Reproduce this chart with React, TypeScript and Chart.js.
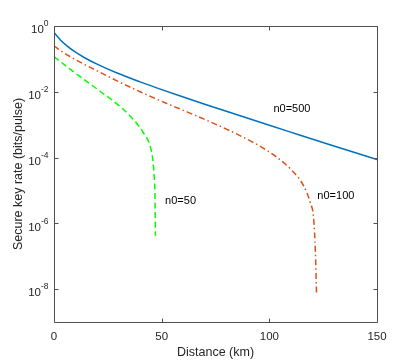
import React, { useEffect, useRef } from "react";
import { Chart, registerables } from "chart.js";

Chart.register(...registerables);

// Distance (km) and secure key rate (bits/pulse) for each series
const distN500 = [0, 3, 6, 10, 14, 20, 29, 40, 50, 58, 70, 85, 100, 114, 130, 150];
const rateN500 = [0.631, 0.3758, 0.2483, 0.1596, 0.1104, 0.069, 0.03784, 0.02, 0.01161, 7.67e-3, 4.178e-3, 2.0e-3, 9.59e-4, 4.875e-4, 2.249e-4, 8.75e-5];

const distN100 = [0, 3, 7, 14, 20, 29, 40, 50, 58, 70, 85, 95, 102, 110, 116, 119, 120.6, 121.4, 121.9];
const rateN100 = [0.251, 0.1803, 0.1225, 0.06855, 0.04345, 0.02193, 0.01, 5.129e-3, 3.09e-3, 1.445e-3, 5.13e-4, 2.344e-4, 1.202e-4, 4.37e-5, 1.35e-5, 4.27e-6, 1.32e-6, 1.29e-7, 7.9e-9];

const distN50 = [0, 3, 7, 13.6, 21.4, 30.7, 36.9, 41.5, 44.7, 45.9, 46.5, 46.9, 47.1];
const rateN50 = [0.1175, 0.082, 0.0518, 0.0245, 0.01038, 3.56e-3, 1.426e-3, 5.68e-4, 2.18e-4, 8.32e-5, 2.75e-5, 6.3e-6, 4.17e-7];

const xTicks = [0, 50, 100, 150];
const yTickExponents = [0, -2, -4, -6, -8];

const annotationText = ["n0=500", "n0=100", "n0=50"];
const annotationX = [101.9, 122.3, 51.6];
const annotationY = [3.0e-3, 6.6e-6, 4.7e-6];

const xTitle = "Distance (km)";
const yTitle = "Secure key rate (bits/pulse)";

const FONT = '"Liberation Sans", Arial, Helvetica, sans-serif';

const toPoints = (xs: number[], ys: number[]) => xs.map((x, i) => ({ x, y: ys[i] }));

const axesPlugin = {
  id: "matlabAxes",
  afterDraw(chart: any) {
    const { ctx, chartArea, scales } = chart;
    const { left, right, top, bottom } = chartArea;
    const xs = scales.x;
    const ys = scales.y;
    ctx.save();
    ctx.strokeStyle = "#505050";
    ctx.lineWidth = 1;
    const L = Math.round(left) + 0.5;
    const R = Math.round(right) + 0.5;
    const T = Math.round(top) + 0.5;
    const B = Math.round(bottom) + 0.5;
    ctx.beginPath();
    ctx.moveTo(L, T);
    ctx.lineTo(R, T);
    ctx.lineTo(R, B);
    ctx.lineTo(L, B);
    ctx.closePath();
    ctx.stroke();

    const tl = 4;
    ctx.beginPath();
    xTicks.forEach((v) => {
      const px = Math.round(xs.getPixelForValue(v)) + 0.5;
      ctx.moveTo(px, B);
      ctx.lineTo(px, B - tl);
      ctx.moveTo(px, T);
      ctx.lineTo(px, T + tl);
    });
    yTickExponents.forEach((e) => {
      const py = Math.round(ys.getPixelForValue(Math.pow(10, e))) + 0.5;
      ctx.moveTo(L, py);
      ctx.lineTo(L + tl, py);
      ctx.moveTo(R, py);
      ctx.lineTo(R - tl, py);
    });
    ctx.stroke();

    ctx.fillStyle = "#262626";
    ctx.font = `11.5px ${FONT}`;
    ctx.textAlign = "center";
    ctx.textBaseline = "middle";
    xTicks.forEach((v) => {
      const px = xs.getPixelForValue(v);
      ctx.fillText(String(v), px, bottom + 14.5);
    });

    const labelRight = left - 5.5;
    yTickExponents.forEach((e) => {
      const py = ys.getPixelForValue(Math.pow(10, e));
      const expStr = e === 0 ? "0" : "-" + Math.abs(e);
      ctx.font = `8.5px ${FONT}`;
      const w = ctx.measureText(expStr).width;
      ctx.textAlign = "right";
      ctx.textBaseline = "middle";
      ctx.fillText(expStr, labelRight, py - 2);
      ctx.font = `11.5px ${FONT}`;
      ctx.fillText("10", labelRight - w, py + 4);
    });

    ctx.font = `12.5px ${FONT}`;
    ctx.textAlign = "center";
    ctx.textBaseline = "middle";
    ctx.fillText(xTitle, (left + right) / 2, bottom + 31);

    ctx.save();
    ctx.translate(18.5, (top + bottom) / 2);
    ctx.rotate(-Math.PI / 2);
    ctx.fillText(yTitle, 0, 0);
    ctx.restore();

    ctx.fillStyle = "#000000";
    ctx.font = `11px ${FONT}`;
    ctx.textAlign = "left";
    ctx.textBaseline = "middle";
    annotationText.forEach((t, i) => {
      ctx.fillText(t, xs.getPixelForValue(annotationX[i]), ys.getPixelForValue(annotationY[i]));
    });
    ctx.restore();
  },
};

export default function App() {
  const ref = useRef<HTMLCanvasElement | null>(null);
  useEffect(() => {
    document.body.style.margin = "0";
    if (!ref.current) return;
    const chart = new Chart(ref.current, {
      type: "line",
      data: {
        datasets: [
          {
            label: "n0=500",
            data: toPoints(distN500, rateN500),
            borderColor: "#0072BD",
            borderWidth: 1.5,
            pointRadius: 0,
            cubicInterpolationMode: "monotone",
            fill: false,
          },
          {
            label: "n0=100",
            data: toPoints(distN100, rateN100),
            borderColor: "#D95319",
            borderWidth: 1.5,
            borderDash: [6, 3, 1.5, 3],
            pointRadius: 0,
            cubicInterpolationMode: "monotone",
            fill: false,
          },
          {
            label: "n0=50",
            data: toPoints(distN50, rateN50),
            borderColor: "#00FF00",
            borderWidth: 1.5,
            borderDash: [6, 3.5],
            pointRadius: 0,
            cubicInterpolationMode: "monotone",
            fill: false,
          },
        ],
      },
      options: {
        responsive: false,
        animation: false,
        devicePixelRatio: 1,
        layout: { padding: { left: 54, right: 38, top: 26, bottom: 40 } },
        plugins: { legend: { display: false }, tooltip: { enabled: false } },
        scales: {
          x: { type: "linear", min: 0, max: 150, display: false },
          y: { type: "logarithmic", min: 1e-9, max: 1, display: false },
        },
      },
      plugins: [axesPlugin],
    } as any);
    return () => chart.destroy();
  }, []);
  return (
    <div style={{ width: 415, height: 362, background: "#fff" }}>
      <canvas ref={ref} width={415} height={362} />
    </div>
  );
}
